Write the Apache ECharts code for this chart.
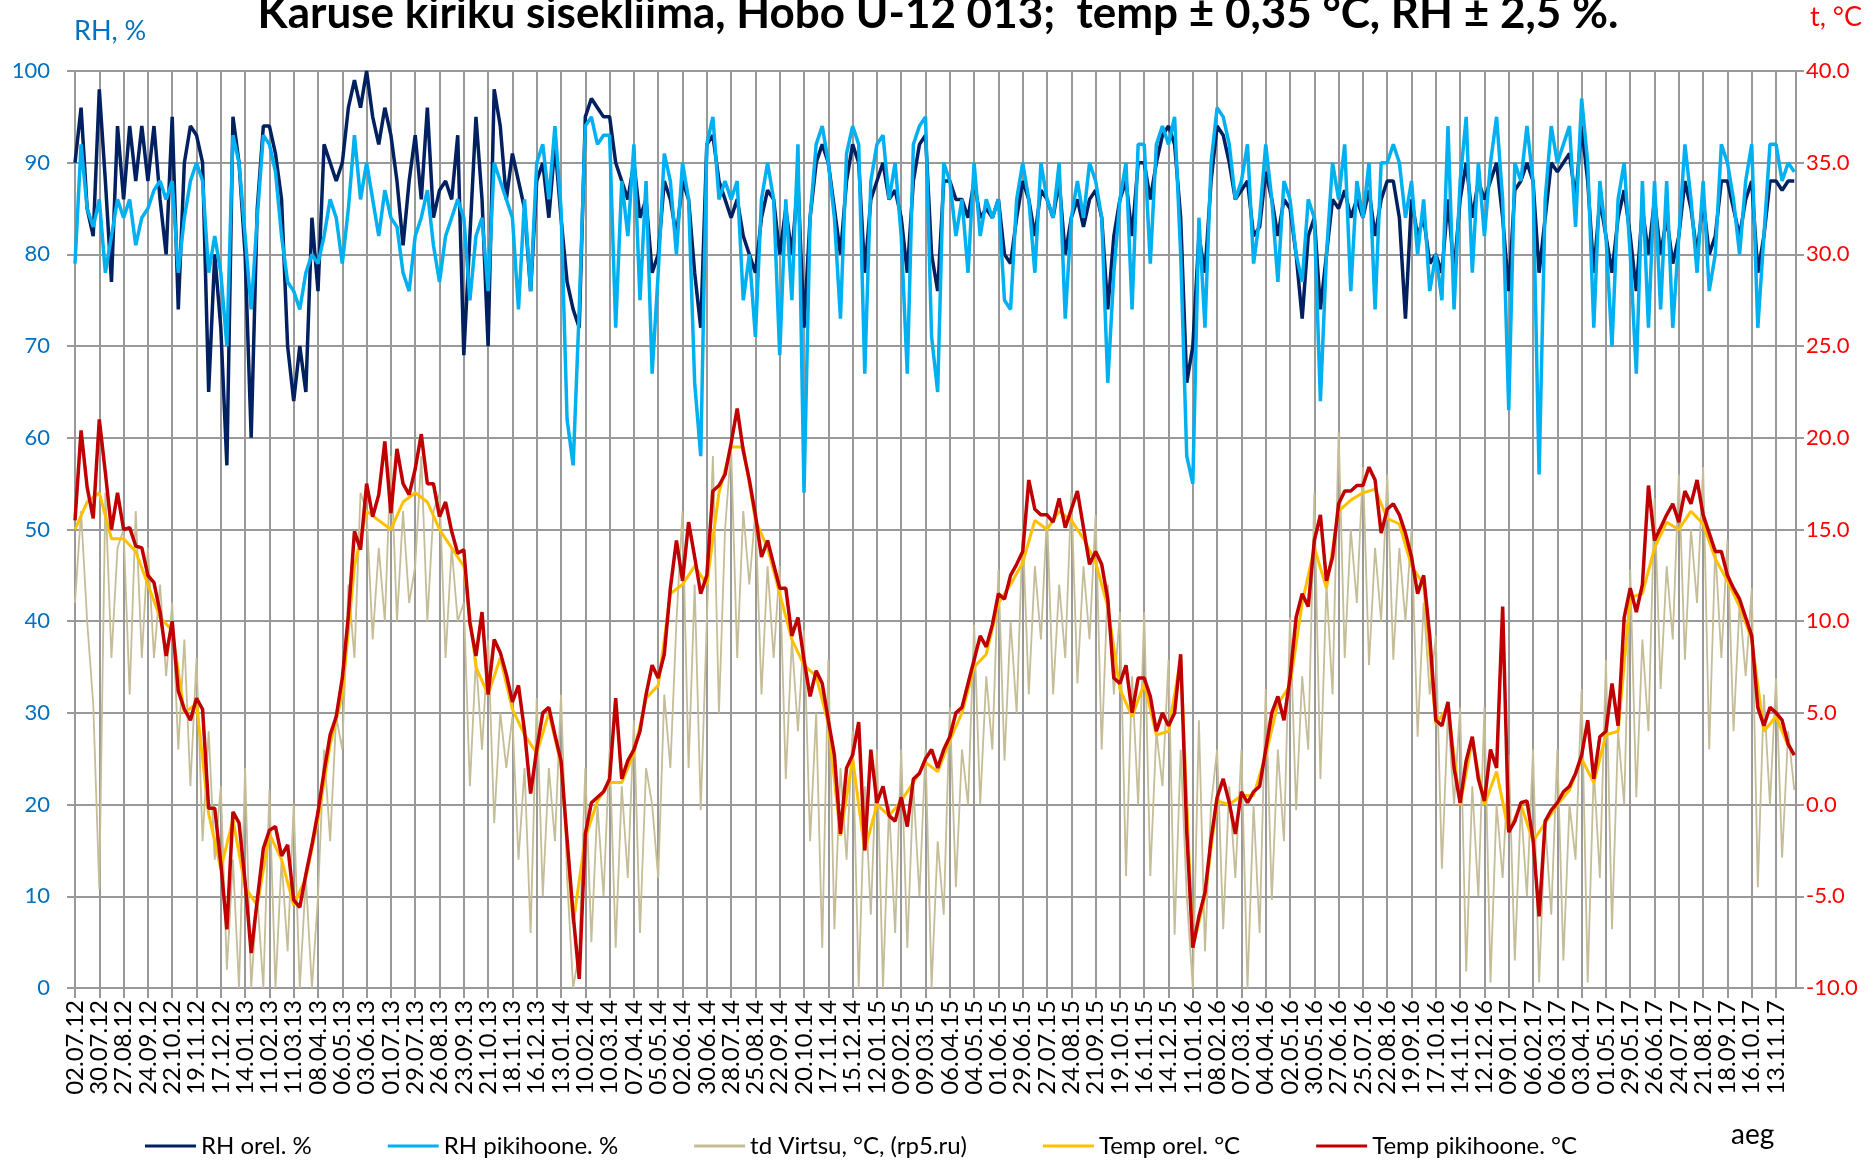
<!DOCTYPE html>
<html>
<head>
<meta charset="utf-8">
<script src="https://cdn.jsdelivr.net/npm/echarts@6/dist/echarts.min.js"></script>
<style>
html, body { margin: 0; background: #fff; }
#chart { width: 1876px; height: 1160px; }
</style>
</head>
<body>
<div id="chart"></div>
<script>
'use strict'

// x axis: days since 02.07.12, one gridline every 28 days
var dateLabels = [
    '02.07.12', '30.07.12', '27.08.12', '24.09.12', '22.10.12', '19.11.12', '17.12.12',
    '14.01.13', '11.02.13', '11.03.13', '08.04.13', '06.05.13', '03.06.13', '01.07.13',
    '29.07.13', '26.08.13', '23.09.13', '21.10.13', '18.11.13', '16.12.13', '13.01.14',
    '10.02.14', '10.03.14', '07.04.14', '05.05.14', '02.06.14', '30.06.14', '28.07.14',
    '25.08.14', '22.09.14', '20.10.14', '17.11.14', '15.12.14', '12.01.15', '09.02.15',
    '09.03.15', '06.04.15', '04.05.15', '01.06.15', '29.06.15', '27.07.15', '24.08.15',
    '21.09.15', '19.10.15', '16.11.15', '14.12.15', '11.01.16', '08.02.16', '07.03.16',
    '04.04.16', '02.05.16', '30.05.16', '27.06.16', '25.07.16', '22.08.16', '19.09.16',
    '17.10.16', '14.11.16', '12.12.16', '09.01.17', '06.02.17', '06.03.17', '03.04.17',
    '01.05.17', '29.05.17', '26.06.17', '24.07.17', '21.08.17', '18.09.17', '16.10.17',
    '13.11.17'
];
var tickDays = 28;
var lastDay = 1983;
var weekStep = 7;     // rhOrel, rhPiki, tdVirtsu, tempPiki: one value per week
var orelStep = 14;    // tempOrel: one value per two weeks

// RH orel. %  (4 values per 28-day block)
var rhOrel = [
    90, 96, 85, 82,   98, 88, 77, 94,   86, 94, 88, 94,   88, 94, 86, 80,
    95, 74, 90, 94,   93, 90, 65, 80,   72, 57, 95, 90,   80, 60, 85, 94,
    94, 91, 86, 70,   64, 70, 65, 84,   76, 92, 90, 88,   90, 96, 99, 96,
    100, 95, 92, 96,  93, 88, 81, 88,   93, 86, 96, 84,   87, 88, 86, 93,
    69, 82, 95, 86,   70, 98, 94, 86,   91, 88, 85, 76,   88, 90, 84, 92,
    84, 77, 74, 72,   95, 97, 96, 95,   95, 90, 88, 86,   90, 84, 86, 78,
    80, 88, 86, 82,   88, 86, 78, 72,   92, 93, 88, 86,   84, 86, 82, 80,
    78, 84, 87, 86,   80, 85, 80, 88,   72, 84, 90, 92,   90, 85, 80, 88,
    92, 90, 78, 86,   88, 90, 86, 87,   84, 78, 88, 92,   93, 80, 76, 88,
    88, 86, 86, 84,   88, 84, 85, 84,   86, 80, 79, 84,   88, 86, 82, 87,
    86, 84, 88, 80,   84, 86, 83, 86,   87, 84, 74, 82,   86, 88, 82, 90,
    90, 86, 90, 93,   94, 92, 84, 66,   70, 82, 78, 88,   94, 93, 90, 86,
    87, 88, 82, 83,   89, 86, 82, 86,   85, 80, 73, 82,   84, 74, 80, 86,
    85, 87, 84, 86,   84, 87, 82, 86,   88, 88, 84, 73,   86, 82, 84, 79,
    80, 78, 86, 78,   86, 90, 84, 88,   86, 88, 90, 84,   76, 87, 88, 90,
    88, 78, 84, 90,   89, 90, 91, 86,   94, 88, 78, 86,   82, 78, 84, 87,
    82, 76, 85, 80,   86, 80, 84, 79,   82, 88, 85, 80,   86, 80, 82, 88,
    88, 85, 82, 86,   88, 78, 82, 88,   88, 87, 88, 88
];

// RH pikihoone. %
var rhPiki = [
    79, 92, 85, 83,   86, 78, 82, 86,   84, 86, 81, 84,   85, 87, 88, 86,
    88, 78, 84, 88,   90, 88, 78, 82,   78, 70, 93, 90,   82, 74, 84, 93,
    92, 89, 82, 77,   76, 74, 78, 80,   79, 82, 86, 84,   79, 85, 93, 86,
    90, 86, 82, 87,   84, 83, 78, 76,   82, 84, 87, 81,   77, 82, 84, 86,
    84, 75, 82, 84,   76, 90, 88, 86,   84, 74, 86, 76,   90, 92, 86, 94,
    85, 62, 57, 74,   94, 95, 92, 93,   93, 72, 88, 82,   92, 75, 88, 67,
    78, 91, 88, 80,   90, 86, 66, 58,   92, 95, 86, 88,   86, 88, 75, 80,
    71, 86, 90, 86,   69, 86, 75, 92,   54, 84, 92, 94,   90, 84, 73, 91,
    94, 92, 67, 88,   92, 93, 86, 90,   82, 67, 92, 94,   95, 71, 65, 90,
    88, 82, 86, 78,   90, 82, 86, 84,   86, 75, 74, 86,   90, 86, 78, 90,
    86, 84, 90, 73,   84, 88, 84, 90,   88, 84, 66, 78,   86, 90, 74, 92,
    92, 79, 92, 94,   92, 95, 80, 58,   55, 84, 72, 90,   96, 95, 92, 86,
    88, 92, 79, 84,   92, 86, 77, 88,   86, 80, 77, 86,   84, 64, 80, 90,
    86, 92, 76, 88,   84, 90, 74, 90,   90, 92, 90, 84,   88, 80, 86, 76,
    80, 75, 94, 74,   88, 95, 78, 90,   82, 90, 95, 86,   63, 90, 88, 94,
    88, 56, 86, 94,   90, 92, 94, 83,   97, 90, 72, 88,   82, 70, 86, 90,
    80, 67, 88, 72,   88, 74, 88, 72,   82, 92, 86, 78,   88, 76, 80, 92,
    90, 86, 80, 88,   92, 72, 82, 92,   92, 88, 90, 89
];

// td Virtsu, °C (rp5.ru)
var tdVirtsu = [
    11, 16, 10, 5.5,   -4.6, 17, 8, 14,   15, 6, 16, 8,   14, 8, 12, 7,
    11, 3, 9, 1,   8, -2, 4, -3,   1, -9, -3, -10,   2, -10, -5, -10,
    0.8, -10, -3, -8,   0, -10, -4, -10,   -5, 3, -2, 4.8,   3, 12, 8, 17,
    16, 9, 14, 10,   19, 10, 16, 11,   13, 19, 10, 16,   17, 8, 14, 10,
    11, 1, 8, 3,   9, -1, 5, 2,   4.8, -3, 2, -7,   5.8, -5, 2, -2,
    6, -4, -10, -8,   2, -7.5, 0, -5,   3, -7.8, 1, -4,   4.6, -7, 2, 0,
    -4, 6, 2, 10,   16, 2, 12, -0.3,   10, 19, 5, 15,   19.5, 8, 16, 12,
    16, 6, 13, 8,   13, 1.4, 9, 4,   9.5, -2, 5, -7.8,   7.9, -6.8, 2, -3,
    4, -10, 1, -6,   3, -10, 0, -7,   3, -7.8, 1, -5,   3, -10, -2, -6,
    5.3, -4.5, 3, 0,   9.8, 0, 7, 3,   12.8, 2.4, 10, 5,   15, 6, 13, 9,
    15.8, 6, 12, 8,   17, 6.6, 13, 9,   15.8, 3, 12, 6,   10.5, -3.9, 7, 0,
    10.5, -3.9, 4, 1,   7.9, -7.1, 3, -5,   -10, 4.6, -8, 0,   3, -6.8, 1, -4,
    3, -10, 0, -7,   6.3, -5.2, 3, -2,   10.2, -0.3, 7, 3,   17, 1.4, 12, 6,
    20.3, 8, 15, 11,   18.4, 7.6, 14, 10,   18, 7.9, 14, 10,   15, 3.7, 11, 6,
    9.2, -3.5, 5, 0,   5.3, -9.1, 1, -5,   5.3, -9.7, 0, -4,   2.7, -8.5, 0, -5,
    3, -9.7, -1, -6,   3, -8.5, 0, -3,   6.3, -9.7, 2, -4,   7.9, -6.8, 4, 0,
    12.8, 0.4, 9, 4,   16.7, 6.3, 13, 9,   18, 7.9, 15, 11,   18.4, 3, 14, 8,
    14.4, 4, 11, 7,   11.8, -4.5, 6, 0,   6.9, -2.9, 4, 0.8
];

// Temp orel. °C  (2 values per 28-day block)
var tempOrel = [
    15, 16.5,   17, 14.5,   14.5, 13.8,   12, 10.2,   9.5, 5,   5.5, -0.5,
    -3.5, -0.8,   -4.5, -5.5,   -1.6, -3,   -5.5, -4,   -0.8, 3.3,   6, 13,
    16, 15.5,   15, 16.5,   17, 16.5,   15, 14,   13, 7.5,   6, 8,
    5.2, 3.8,   2.8, 5,   2.2, -6.5,   -1.8, 0.2,   1.2, 1.2,   2.8, 5.8,
    6.5, 11.5,   12, 13,   12, 17,   19.5, 19.5,   15.5, 14,   11.5, 9,
    7.6, 7,   4.4, -1.7,   2.5, -2.5,   0, -0.6,   0.2, 1.2,   2.3, 1.8,
    3.5, 5,   7.5, 8.2,   11, 12,   13.2, 15.5,   15, 16,   15.5, 14.5,
    13.2, 10.8,   6.3, 4.8,   6.6, 3.8,   4, 8,   -7.8, -5,   0.2, 0,
    0.5, 0.5,   2.7, 5.5,   6.5, 11,   14, 11.8,   16, 16.6,   17, 17.2,
    15.6, 15.3,   13, 12,   4.4, 5.3,   0, 3.5,   0, 1.8,   -1.5, 0,
    -2, -1,   0, 0.8,   2.5, 1.2,   3.8, 4,   11.3, 11.5,   14, 15.4,
    15, 16,   15.3, 13.4,   12.2, 10.8,   9, 4,   4.8, 3.2
];

// Temp pikihoone. °C
var tempPiki = [
    15.5, 20.4, 17.3, 15.6,   21.0, 18.1, 15.0, 17.0,   15.0, 15.1, 14.1, 14.0,
    12.5, 12.1, 10.5, 8.1,   10.0, 6.2, 5.2, 4.6,   5.8, 5.2, -0.2, -0.2,
    -3.2, -6.8, -0.4, -1.0,   -4.2, -8.1, -5.2, -2.4,   -1.4, -1.2, -2.8, -2.2,
    -5.2, -5.6, -3.8, -2.2,   -0.4, 1.8, 3.8, 4.8,   6.9, 10.3, 14.9, 13.9,
    17.5, 15.7, 16.9, 19.8,   15.9, 19.4, 17.5, 16.9,   18.3, 20.2, 17.5, 17.5,
    15.7, 16.5, 14.9, 13.7,   13.9, 9.9, 8.1, 10.5,   6.0, 9.0, 8.3, 7.1,
    5.6, 6.5, 4.0, 0.6,   3.0, 5.0, 5.3, 3.8,   2.4, -1.9, -6.0, -9.5,
    -1.6, 0.1, 0.4, 0.7,   1.4, 5.8, 1.4, 2.4,   3.0, 4.0, 6.0, 7.6,
    6.9, 8.2, 11.8, 14.4,   12.2, 15.4, 13.5, 11.5,   12.5, 17.1, 17.4, 18.0,
    19.7, 21.6, 19.3, 17.7,   15.8, 13.5, 14.4, 13.1,   11.8, 11.8, 9.2, 10.2,
    7.9, 5.9, 7.3, 6.6,   4.6, 2.7, -1.6, 2.0,   2.7, 4.5, -2.5, 3.0,
    0.1, 1.0, -0.6, -0.9,   0.4, -1.2, 1.4, 1.7,   2.5, 3.0, 2.0, 3.0,
    3.7, 5.0, 5.3, 6.6,   7.9, 9.2, 8.6, 9.8,   11.5, 11.2, 12.5, 13.1,
    13.8, 17.7, 16.1, 15.8,   15.8, 15.4, 16.7, 15.1,   16.1, 17.1, 15.1, 13.1,
    13.8, 13.1, 11.2, 6.9,   6.6, 7.6, 5.0, 6.9,   6.9, 5.9, 4.0, 5.0,
    4.3, 5.0, 8.2, -1.5,   -7.8, -6.1, -4.8, -1.9,   0.4, 1.4, 0.1, -1.6,
    0.7, 0.1, 0.7, 1.0,   3.0, 5.0, 5.9, 4.6,   6.9, 10.2, 11.5, 10.8,
    14.4, 15.8, 12.2, 13.5,   16.4, 17.1, 17.1, 17.4,   17.4, 18.4, 17.7, 14.8,
    16.1, 16.4, 15.8, 14.8,   13.5, 11.5, 12.5, 9.2,   4.6, 4.3, 5.6, 2.0,
    0.1, 2.4, 3.7, 1.4,   0.2, 3.0, 2.0, 10.8,   -1.5, -0.9, 0.1, 0.2,
    -1.9, -6.1, -0.9, -0.3,   0.1, 0.7, 1.0, 1.7,   2.7, 4.6, 1.4, 3.7,
    4.0, 6.6, 4.3, 10.2,   11.8, 10.5, 12.0, 17.4,   14.4, 15.1, 15.8, 16.4,
    15.4, 17.1, 16.4, 17.7,   15.8, 14.8, 13.8, 13.8,   12.5, 11.8, 11.2, 10.2,
    9.2, 5.3, 4.3, 5.3,   5.0, 4.6, 3.3, 2.7
];

function toPoints(values, step) {
    return values.map(function (v, i) { return [i * step, v]; });
}

var gridColor = '#999999';
var font = 'Lato';

var chart = echarts.init(document.getElementById('chart'));

var option = {
    animation: false,
    backgroundColor: '#ffffff',
    textStyle: { fontFamily: font },
    title: {
        text: 'Karuse kiriku sisekliima, Hobo U-12 013;  temp \u00b1 0,35 \u00b0C, RH \u00b1 2,5 %.',
        left: 'center',
        top: -13,
        textStyle: { fontFamily: font, fontSize: 44, fontWeight: 'bold', color: '#000' }
    },
    graphic: [
        { type: 'text', left: 74, top: 18, style: { text: 'RH, %', fill: '#0070C0', font: '27px Lato' } },
        { type: 'text', left: 1810, top: 4, style: { text: 't, \u00b0C', fill: '#FF0000', font: '27px Lato' } },
        { type: 'text', left: 1731, top: 1121, style: { text: 'aeg', fill: '#000', font: '28px Lato' } }
    ],
    legend: {
        left: 140,
        top: 1129,
        icon: 'rect',
        itemWidth: 51,
        itemHeight: 3,
        itemGap: 76,
        textStyle: { fontFamily: font, fontSize: 24, color: '#000' },
        data: ['RH orel. %', 'RH pikihoone. %', 'td Virtsu, \u00b0C, (rp5.ru)', 'Temp orel. \u00b0C', 'Temp pikihoone. \u00b0C']
    },
    grid: { left: 75, right: 80, top: 71, bottom: 172 },
    xAxis: {
        type: 'value',
        min: 0,
        max: lastDay,
        interval: tickDays,
        axisLine: { show: true, lineStyle: { color: gridColor, width: 2 } },
        axisTick: { show: true, length: 10, lineStyle: { color: gridColor, width: 2 } },
        splitLine: { show: true, lineStyle: { color: gridColor, width: 2 } },
        axisLabel: {
            rotate: 90,
            margin: 12,
            fontSize: 24,
            lineHeight: 22,
            color: '#000',
            showMinLabel: true,
            showMaxLabel: false,
            formatter: function (v) {
                if (v % tickDays !== 0) return '';
                return dateLabels[v / tickDays] || '';
            }
        }
    },
    yAxis: [
        {
            type: 'value',
            min: 0,
            max: 100,
            interval: 10,
            axisLine: { show: true, lineStyle: { color: gridColor, width: 2 } },
            axisTick: { show: true, length: 8, lineStyle: { color: gridColor, width: 2 } },
            splitLine: { show: true, lineStyle: { color: gridColor, width: 2 } },
            axisLabel: { fontSize: 22, color: '#0070C0', margin: 25 }
        },
        {
            type: 'value',
            min: -10,
            max: 40,
            interval: 5,
            position: 'right',
            axisLine: { show: true, lineStyle: { color: gridColor, width: 2 } },
            axisTick: { show: true, length: 8, lineStyle: { color: gridColor, width: 2 } },
            splitLine: { show: false },
            axisLabel: {
                fontSize: 22,
                color: '#FF0000',
                margin: 10,
                formatter: function (v) { return v.toFixed(1); }
            }
        }
    ],
    series: [
        {
            name: 'RH orel. %',
            type: 'line',
            yAxisIndex: 0,
            symbol: 'none',
            data: toPoints(rhOrel, weekStep),
            itemStyle: { color: '#002060' },
            lineStyle: { color: '#002060', width: 3.5 }
        }, {
            name: 'RH pikihoone. %',
            type: 'line',
            yAxisIndex: 0,
            symbol: 'none',
            data: toPoints(rhPiki, weekStep),
            itemStyle: { color: '#00B0F0' },
            lineStyle: { color: '#00B0F0', width: 3.5 }
        }, {
            name: 'td Virtsu, \u00b0C, (rp5.ru)',
            type: 'line',
            yAxisIndex: 1,
            symbol: 'none',
            data: toPoints(tdVirtsu, weekStep),
            itemStyle: { color: '#C4BD97' },
            lineStyle: { color: '#C4BD97', width: 1.8 }
        }, {
            name: 'Temp orel. \u00b0C',
            type: 'line',
            yAxisIndex: 1,
            symbol: 'none',
            data: toPoints(tempOrel, orelStep),
            itemStyle: { color: '#FFC000' },
            lineStyle: { color: '#FFC000', width: 3 }
        }, {
            name: 'Temp pikihoone. \u00b0C',
            type: 'line',
            yAxisIndex: 1,
            symbol: 'none',
            data: toPoints(tempPiki, weekStep),
            itemStyle: { color: '#C00000' },
            lineStyle: { color: '#C00000', width: 3.5 }
        }
    ]
};

chart.setOption(option);
</script>
</body>
</html>
